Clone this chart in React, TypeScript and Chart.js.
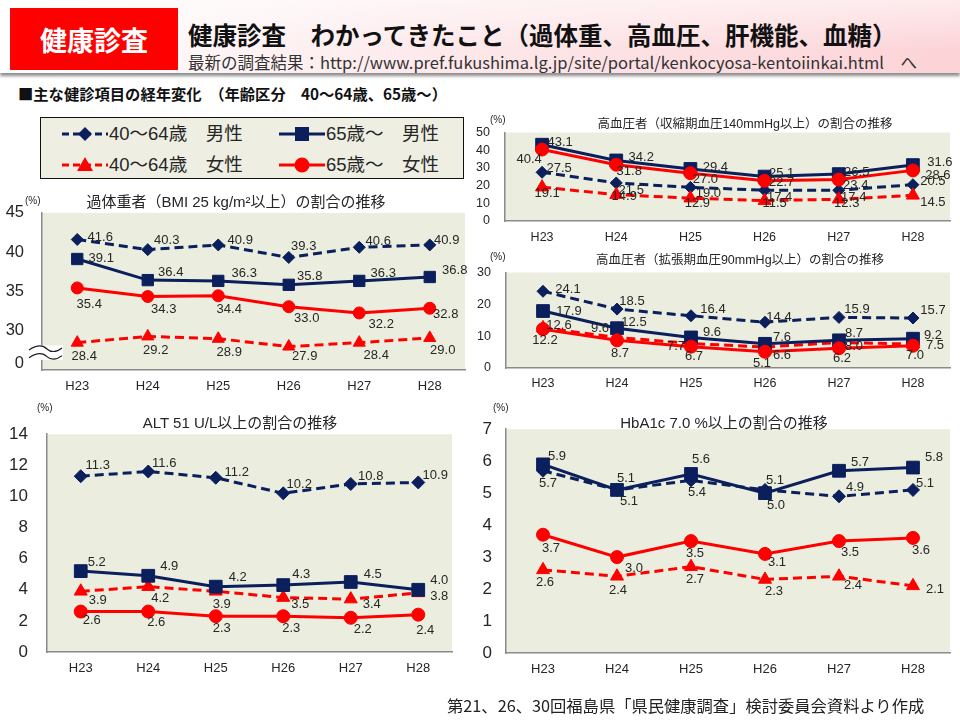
import React, { useEffect, useRef } from "react";
import { Chart, registerables } from "chart.js";
Chart.register(...registerables);

// ---------- data ----------
const years = ["H23", "H24", "H25", "H26", "H27", "H28"];
const legendLabels = ["40～64歳　男性", "65歳～　男性", "40～64歳　女性", "65歳～　女性"];

// 過体重者（BMI 25以上）
const bmiMen40 = [41.6, 40.3, 40.9, 39.3, 40.6, 40.9];
const bmiMen65 = [39.1, 36.4, 36.3, 35.8, 36.3, 36.8];
const bmiWomen40 = [28.4, 29.2, 28.9, 27.9, 28.4, 29.0];
const bmiWomen65 = [35.4, 34.3, 34.4, 33.0, 32.2, 32.8];
const bmiTickValues = [25.8, 30, 35, 40, 45];
const bmiTickLabels = ["0", "30", "35", "40", "45"];

// 高血圧者（収縮期 140以上）
const sbpMen40 = [27.5, 21.5, 19.0, 17.4, 17.4, 20.5];
const sbpMen65 = [43.1, 34.2, 29.4, 25.1, 26.5, 31.6];
const sbpWomen40 = [19.1, 14.9, 12.9, 11.5, 12.3, 14.5];
const sbpWomen65 = [40.4, 31.8, 27.0, 22.7, 23.4, 28.6];
const sbpTickValues = [0, 10, 20, 30, 40, 50];

// 高血圧者（拡張期 90以上）
const dbpMen40 = [24.1, 18.5, 16.4, 14.4, 15.9, 15.7];
const dbpMen65 = [17.9, 12.5, 9.6, 7.6, 8.7, 9.2];
const dbpWomen40 = [12.6, 9.6, 7.7, 6.6, 8.0, 7.5];
const dbpWomen65 = [12.2, 8.7, 6.7, 5.1, 6.2, 7.0];
const dbpTickValues = [0, 10, 20, 30];

// ALT 51以上
const altMen40 = [11.3, 11.6, 11.2, 10.2, 10.8, 10.9];
const altMen65 = [5.2, 4.9, 4.2, 4.3, 4.5, 4.0];
const altWomen40 = [3.9, 4.2, 3.9, 3.5, 3.4, 3.8];
const altWomen65 = [2.6, 2.6, 2.3, 2.3, 2.2, 2.4];
const altTickValues = [0, 2, 4, 6, 8, 10, 12, 14];

// HbA1c 7.0以上
const hbaMen40 = [5.7, 5.1, 5.4, 5.1, 4.9, 5.1];
const hbaMen65 = [5.9, 5.1, 5.6, 5.0, 5.7, 5.8];
const hbaWomen40 = [2.6, 2.4, 2.7, 2.3, 2.4, 2.1];
const hbaWomen65 = [3.7, 3.0, 3.5, 3.1, 3.5, 3.6];
const hbaTickValues = [0, 1, 2, 3, 4, 5, 6, 7];

// ---------- styles ----------
const SANS = '"Liberation Sans", Arial, "Noto Sans CJK JP", sans-serif';
const JP = '"Noto Sans CJK JP", "Liberation Sans", sans-serif';
const NAVY = "#0a1f5c";
const RED = "#ff0000";
const PLOT_BG = "#ebeedf";
const AXIS = "#8a8a8a";
const TEXT = "#262626";

const seriesStyles = [
  { color: NAVY, dash: [9, 5], point: "rectRot", order: 3 },
  { color: NAVY, dash: [], point: "rect", order: 1 },
  { color: RED, dash: [9, 5], point: "triangle", order: 2 },
  { color: RED, dash: [], point: "circle", order: 0 },
];

type Panel = {
  title: string;
  titleX: number; titleY: number; titleSize: number;
  pctX: number; pctY: number;
  box: { left: number; top: number; width: number; height: number };
  plot: { left: number; top: number; right: number; bottom: number };
  yMin: number; yMax: number;
  tickValues: number[]; tickLabels?: string[];
  yFont: number; yPad: number; xFont: number; xPad: number;
  series: number[][];
  radii: number[];
  offsets: number[][][];
  broken?: boolean;
};

const panels: Panel[] = [
  {
    title: "過体重者（BMI 25 kg/m²以上）の割合の推移",
    titleX: 236, titleY: 201, titleSize: 15, pctX: 25, pctY: 196,
    box: { left: 0, top: 185, width: 480, height: 215 },
    plot: { left: 42, top: 197, right: 465, bottom: 370 },
    yMin: 24.9, yMax: 45, tickValues: bmiTickValues, tickLabels: bmiTickLabels,
    yFont: 16.5, yPad: 18, xFont: 13, xPad: 9,
    series: [bmiMen40, bmiMen65, bmiWomen40, bmiWomen65],
    radii: [6, 8, 7, 6],
    offsets: [
      [[23, -2], [19, -9], [22, -5], [15, -11], [19, -6], [17, -5]],
      [[24, -1], [23, -8], [26, -7], [21, -8], [24, -7], [25, -7]],
      [[7, 14], [8, 14], [11, 14], [16, 10], [17, 13], [13, 12]],
      [[12, 16], [16, 13], [11, 14], [18, 12], [22, 11], [16, 6]],
    ],
    broken: true,
  },
  {
    title: "高血圧者（収縮期血圧140mmHg以上）の割合の推移",
    titleX: 745, titleY: 124, titleSize: 12.5, pctX: 490, pctY: 115,
    box: { left: 470, top: 110, width: 490, height: 140 },
    plot: { left: 505, top: 122, right: 956, bottom: 221 },
    yMin: 0, yMax: 50, tickValues: sbpTickValues,
    yFont: 12.5, yPad: 15, xFont: 12.5, xPad: 9,
    series: [sbpMen40, sbpMen65, sbpWomen40, sbpWomen65],
    radii: [6, 9, 7.5, 6.5],
    offsets: [
      [[17, -4], [15, 7], [18, 6], [15, 7], [15, 7], [20, -3]],
      [[18, -2], [25, -3], [25, -2], [17, -3], [18, -2], [27, -3]],
      [[5, 6], [8, 2], [7, 5], [10, 3], [8, 4], [20, 7]],
      [[-13, 10], [13, 7], [15, 6], [17, 2], [17, 6], [25, 5]],
    ],
  },
  {
    title: "高血圧者（拡張期血圧90mmHg以上）の割合の推移",
    titleX: 740, titleY: 260, titleSize: 12.5, pctX: 490, pctY: 252,
    box: { left: 470, top: 250, width: 490, height: 145 },
    plot: { left: 506, top: 264, right: 955, bottom: 368 },
    yMin: 0, yMax: 30, tickValues: dbpTickValues,
    yFont: 12.5, yPad: 15, xFont: 12.5, xPad: 8,
    series: [dbpMen40, dbpMen65, dbpWomen40, dbpWomen65],
    radii: [6, 9, 7.5, 6.5],
    offsets: [
      [[25, -2], [15, -8], [22, -6], [14, -5], [18, -8], [20, -8]],
      [[26, 0], [17, -6], [21, -5], [17, -6], [15, -7], [20, -3]],
      [[16, -2], [-17, -9], [-15, 3], [17, 8], [15, 4], [22, 1]],
      [[2, 11], [3, 13], [3, 10], [-3, 12], [3, 10], [2, 10]],
    ],
  },
  {
    title: "ALT 51 U/L以上の割合の推移",
    titleX: 240, titleY: 422, titleSize: 15, pctX: 37, pctY: 403,
    box: { left: 0, top: 405, width: 480, height: 285 },
    plot: { left: 47, top: 422, right: 452, bottom: 652 },
    yMin: 0, yMax: 14, tickValues: altTickValues,
    yFont: 17, yPad: 19, xFont: 13, xPad: 9,
    series: [altMen40, altMen65, altWomen40, altWomen65],
    radii: [6.5, 9, 7.5, 6.5],
    offsets: [
      [[17, -11], [16, -8], [21, -5], [16, -9], [20, -8], [17, -7]],
      [[16, -9], [21, -9], [22, -9], [18, -11], [22, -8], [21, -9]],
      [[17, 9], [12, 12], [6, 13], [17, 7], [21, 5], [21, 4]],
      [[11, 9], [8, 11], [6, 12], [8, 12], [12, 12], [7, 16]],
    ],
  },
  {
    title: "HbA1c 7.0 %以上の割合の推移",
    titleX: 724, titleY: 422, titleSize: 15, pctX: 493, pctY: 403,
    box: { left: 470, top: 405, width: 490, height: 285 },
    plot: { left: 506, top: 424, right: 955, bottom: 653 },
    yMin: 0, yMax: 7, tickValues: hbaTickValues,
    yFont: 17, yPad: 14, xFont: 13, xPad: 8.5,
    series: [hbaMen40, hbaMen65, hbaWomen40, hbaWomen65],
    radii: [6.5, 9, 7.5, 6.5],
    offsets: [
      [[5, 13], [12, 11], [6, 12], [10, -10], [16, -9], [12, -7]],
      [[14, -8], [9, -12], [10, -15], [11, 12], [21, -8], [21, -10]],
      [[2, 13], [1, 14], [4, 13], [9, 12], [14, 9], [22, 4]],
      [[8, 14], [17, 11], [4, 12], [12, 9], [11, 11], [8, 13]],
    ],
  },
];

function buildChart(canvas: HTMLCanvasElement, p: Panel) {
  const yW = p.plot.left - p.box.left;
  const xH = p.box.top + p.box.height - p.plot.bottom;
  const padTop = p.plot.top - p.box.top;
  const padRight = p.box.left + p.box.width - p.plot.right;

  const bgPlugin = {
    id: "plotBg",
    beforeDraw(chart: any) {
      const { ctx, chartArea: a } = chart;
      ctx.save();
      ctx.fillStyle = PLOT_BG;
      ctx.fillRect(a.left, a.top, a.right - a.left, a.bottom - a.top);
      ctx.restore();
    },
  };

  const labelPlugin = {
    id: "valueLabels",
    afterDatasetsDraw(chart: any) {
      const ctx = chart.ctx;
      ctx.save();
      ctx.font = `13px ${SANS}`;
      ctx.fillStyle = TEXT;
      ctx.textAlign = "center";
      ctx.textBaseline = "middle";
      p.series.forEach((vals, si) => {
        const meta = chart.getDatasetMeta(si);
        meta.data.forEach((pt: any, j: number) => {
          const [dx, dy] = p.offsets[si][j];
          ctx.fillText(vals[j].toFixed(1), pt.x + dx, pt.y + dy);
        });
      });
      ctx.restore();
    },
  };

  const breakPlugin = {
    id: "axisBreak",
    afterDraw(chart: any) {
      if (!p.broken) return;
      const { ctx, chartArea: a } = chart;
      const ys = chart.scales.y;
      const yTop = ys.getPixelForValue(28.05);
      const yBot = ys.getPixelForValue(26.2);
      const x0 = a.left - 14;
      const x1 = a.left + 21;
      ctx.save();
      ctx.fillStyle = "#ffffff";
      ctx.fillRect(x0, yTop, x1 - x0, yBot - yTop);
      ctx.strokeStyle = "#222";
      ctx.lineWidth = 1.2;
      const h = (yBot - yTop);
      [yTop + h * 0.25, yTop + h * 0.78].forEach((yy) => {
        ctx.beginPath();
        ctx.moveTo(x0 + 1, yy + 1);
        ctx.bezierCurveTo(x0 + 10, yy - 5, x0 + 16, yy - 3, x0 + 19, yy);
        ctx.bezierCurveTo(x0 + 22, yy + 3, x0 + 28, yy + 4, x1 - 1, yy - 1);
        ctx.stroke();
      });
      ctx.restore();
    },
  };

  return new Chart(canvas, {
    type: "line",
    data: {
      labels: years,
      datasets: p.series.map((vals, si) => ({
        label: legendLabels[si],
        data: vals,
        borderColor: seriesStyles[si].color,
        backgroundColor: seriesStyles[si].color,
        borderWidth: 3,
        borderDash: seriesStyles[si].dash,
        pointStyle: seriesStyles[si].point as any,
        pointRadius: p.radii[si],
        pointBackgroundColor: seriesStyles[si].color,
        pointBorderColor: seriesStyles[si].color,
        pointBorderWidth: 1,
        tension: 0,
        fill: false,
        order: seriesStyles[si].order,
      })),
    },
    options: {
      animation: false,
      responsive: false,
      maintainAspectRatio: false,
      events: [],
      layout: { padding: { top: padTop, right: padRight, left: 0, bottom: 0 } },
      plugins: { legend: { display: false }, title: { display: false }, tooltip: { enabled: false } },
      scales: {
        x: {
          type: "category",
          offset: true,
          grid: { display: false, drawTicks: false },
          border: { display: true, color: AXIS, width: 1.5 },
          ticks: { color: TEXT, padding: p.xPad, font: { size: p.xFont, family: SANS }, maxRotation: 0, autoSkip: false },
          afterFit: (s: any) => { s.height = xH; },
        },
        y: {
          type: "linear",
          min: p.yMin,
          max: p.yMax,
          grid: { display: false, drawTicks: false },
          border: { display: true, color: AXIS, width: 1.5 },
          ticks: {
            color: TEXT,
            padding: p.yPad,
            autoSkip: false,
            font: { size: p.yFont, family: SANS },
            callback: (v: any) => {
              const idx = p.tickValues.indexOf(Number(v));
              if (p.tickLabels && idx >= 0) return p.tickLabels[idx];
              return String(v);
            },
          },
          afterBuildTicks: (s: any) => { s.ticks = p.tickValues.map((v) => ({ value: v })); },
          afterFit: (s: any) => { s.width = yW; },
        },
      },
    } as any,
    plugins: [bgPlugin, labelPlugin, breakPlugin],
  });
}

function LegendMark({ si }: { si: number }) {
  const st = seriesStyles[si];
  const cx = 24, cy = 8;
  let marker: any = null;
  if (st.point === "rectRot") marker = <polygon points={`${cx},${cy - 7} ${cx + 7},${cy} ${cx},${cy + 7} ${cx - 7},${cy}`} fill={st.color} />;
  if (st.point === "rect") marker = <rect x={cx - 7} y={cy - 7} width={14} height={14} fill={st.color} />;
  if (st.point === "triangle") marker = <polygon points={`${cx},${cy - 8} ${cx + 8},${cy + 6} ${cx - 8},${cy + 6}`} fill={st.color} />;
  if (st.point === "circle") marker = <circle cx={cx} cy={cy} r={7.5} fill={st.color} />;
  return (
    <svg width={48} height={16} style={{ display: "block" }}>
      <line x1={1} y1={cy} x2={47} y2={cy} stroke={st.color} strokeWidth={3} strokeDasharray={st.dash.length ? "7 4" : undefined} />
      {marker}
    </svg>
  );
}

export default function App() {
  const canvases = useRef<(HTMLCanvasElement | null)[]>([]);
  useEffect(() => {
    const charts = panels.map((p, i) => buildChart(canvases.current[i] as HTMLCanvasElement, p));
    return () => charts.forEach((c) => c.destroy());
  }, []);

  const legendPos = [
    { left: 20, top: 16 }, { left: 237, top: 16 },
    { left: 20, top: 47 }, { left: 237, top: 47 },
  ];

  return (
    <div style={{ position: "fixed", left: 0, top: 0, width: 960, height: 720, background: "#fff", overflow: "hidden", fontFamily: JP, color: TEXT }}>
      {/* header */}
      <div style={{ position: "absolute", left: 0, top: 0, width: 960, height: 73, background: "linear-gradient(to bottom, rgba(255,255,255,0.55), rgba(255,255,255,0) 70%), linear-gradient(to right, #ffffff 0%, #fde9eb 45%, #fcd3d7 100%)", boxShadow: "0 3px 3px rgba(0,0,0,0.45)" }} />
      <div style={{ position: "absolute", left: 10, top: 8, width: 168, height: 62, background: "#ff0000", color: "#fff", fontWeight: 700, fontSize: 27, display: "flex", alignItems: "center", justifyContent: "center", letterSpacing: 0 }}>健康診査</div>
      <div style={{ position: "absolute", left: 188, top: 19, fontSize: 24.5, fontWeight: 700, color: "#111", whiteSpace: "nowrap", lineHeight: "32px" }}>健康診査　わかってきたこと（過体重、高血圧、肝機能、血糖）</div>
      <div style={{ position: "absolute", left: 188, top: 52, fontSize: 16.5, color: "#333", whiteSpace: "nowrap", lineHeight: "20px" }}>最新の調査結果：http://www.pref.fukushima.lg.jp/site/portal/kenkocyosa-kentoiinkai.html　へ</div>
      <div style={{ position: "absolute", left: 18, top: 84, fontSize: 15.3, fontWeight: 700, color: "#111", whiteSpace: "nowrap", lineHeight: "18px" }}>■主な健診項目の経年変化　（年齢区分　40～64歳、65歳～）</div>

      {/* legend */}
      <div style={{ position: "absolute", left: 40, top: 117, width: 422, height: 60, border: "1.5px solid #111", background: "#eeefe2" }}>
        {legendPos.map((pos, si) => (
          <div key={si} style={{ position: "absolute", left: pos.left, top: pos.top - 8, display: "flex", alignItems: "center", height: 16 }}>
            <LegendMark si={si} />
            <span style={{ fontSize: 18.5, fontFamily: SANS, color: TEXT, whiteSpace: "nowrap", lineHeight: "16px" }}>{legendLabels[si]}</span>
          </div>
        ))}
      </div>

      {panels.map((p, i) => (
        <canvas
          key={"c" + i}
          ref={(el) => { canvases.current[i] = el; }}
          width={p.box.width}
          height={p.box.height}
          style={{ position: "absolute", left: p.box.left, top: p.box.top, width: p.box.width, height: p.box.height }}
        />
      ))}
      {panels.map((p, i) => (
        <React.Fragment key={"t" + i}>
          <div style={{ position: "absolute", left: p.titleX, top: p.titleY, transform: "translate(-50%, -50%)", fontSize: p.titleSize, fontFamily: SANS, color: TEXT, whiteSpace: "nowrap", lineHeight: 1 }}>{p.title}</div>
          <div style={{ position: "absolute", left: p.pctX, top: p.pctY, fontSize: 10, fontFamily: SANS, color: TEXT, whiteSpace: "nowrap", lineHeight: 1 }}>(%)</div>
        </React.Fragment>
      ))}

      <div style={{ position: "absolute", left: 447, top: 695, fontSize: 16.3, color: "#222", whiteSpace: "nowrap", lineHeight: "20px" }}>第21、26、30回福島県「県民健康調査」検討委員会資料より作成</div>
    </div>
  );
}
